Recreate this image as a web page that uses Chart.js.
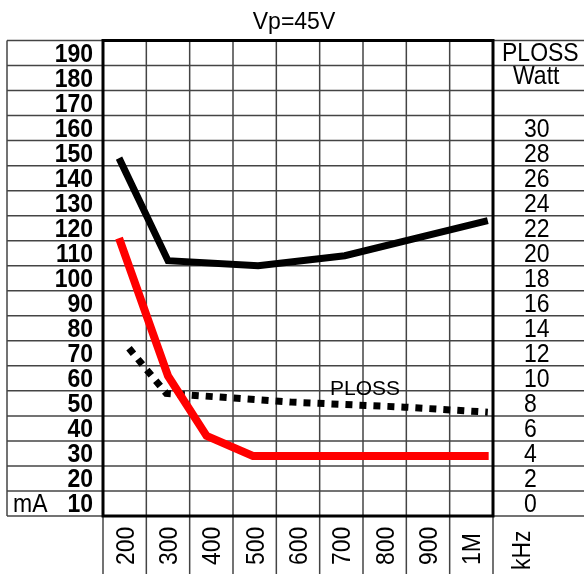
<!DOCTYPE html>
<html>
<head>
<meta charset="utf-8">
<script src="https://cdn.jsdelivr.net/npm/chart.js@4.4.1/dist/chart.umd.min.js"></script>
<style>
  html, body { margin: 0; padding: 0; background: #fff; }
  canvas { display: block; }
</style>
</head>
<body>
<canvas id="chart" width="584" height="574"></canvas>
<script>
  // ---- data ----------------------------------------------------------------
  const FREQ_TICKS = [200, 300, 400, 500, 600, 700, 800, 900, 1000];
  const FREQ_LABELS = ["200", "300", "400", "500", "600", "700", "800", "900", "1M"];
  const MA_TICKS = [190, 180, 170, 160, 150, 140, 130, 120, 110, 100, 90, 80, 70, 60, 50, 40, 30, 20, 10];
  const PLOSS_TICKS = [30, 28, 26, 24, 22, 20, 18, 16, 14, 12, 10, 8, 6, 4, 2, 0];

  // black curve (mA)
  const UPPER_KHZ = [187, 300, 508, 708, 1038];
  const UPPER_MA = [148, 107, 105, 109, 123];
  // red curve (mA)
  const LOWER_KHZ = [187, 300, 389, 496, 1040];
  const LOWER_MA = [116, 61, 37, 29, 29];
  // dotted curve, power loss (W, right axis)
  const PLOSS_KHZ = [210, 296, 585, 846, 1038];
  const PLOSS_W = [12.4, 8.8, 8.1, 7.7, 7.3];

  const FONT = "'Liberation Sans', Arial, sans-serif";
  const GRID = "#444";
  const STRETCH = 1.1; // the original glyphs are a bit taller than Arial

  const pts = (xs, ys) => xs.map((x, i) => ({ x: x, y: ys[i] }));

  // text with a slight vertical stretch, optionally rotated
  function label(ctx, text, x, y, rot) {
    ctx.save();
    ctx.translate(x, y);
    if (rot) ctx.rotate(rot);
    ctx.scale(1, STRETCH);
    ctx.fillText(text, 0, 0);
    ctx.restore();
  }

  // grid lines + label cells, drawn from the scales
  const tablePlugin = {
    id: "table",
    beforeDatasetsDraw(chart) {
      const { ctx, chartArea: a, scales } = chart;
      const x = scales.x, y = scales.y;
      const W = chart.width, H = chart.height;
      ctx.save();
      ctx.strokeStyle = GRID;
      ctx.lineWidth = 1.5;
      // row lines (between the labelled values)
      for (let v = 5; v <= 195; v += 10) {
        const py = y.getPixelForValue(v);
        ctx.beginPath();
        ctx.moveTo(7, py);
        ctx.lineTo(W, py);
        ctx.stroke();
      }
      // column lines
      for (let f = 150; f <= 1050; f += 100) {
        const px = x.getPixelForValue(f);
        ctx.beginPath();
        ctx.moveTo(px, a.top);
        ctx.lineTo(px, H);
        ctx.stroke();
      }
      // left edge of the label column
      ctx.beginPath();
      ctx.moveTo(7, a.top);
      ctx.lineTo(7, a.bottom);
      ctx.stroke();
      // plot frame
      ctx.strokeStyle = "#000";
      ctx.lineWidth = 3;
      ctx.strokeRect(a.left, a.top, a.right - a.left, a.bottom - a.top);
      ctx.restore();
    },
    afterDraw(chart) {
      const { ctx, scales } = chart;
      const x = scales.x, y = scales.y, y2 = scales.y2;
      ctx.save();
      ctx.fillStyle = "#000";
      ctx.textBaseline = "alphabetic";

      // title
      ctx.font = "23px " + FONT;
      ctx.textAlign = "center";
      ctx.fillText("Vp=45V", 294, 29);

      // left mA labels
      ctx.font = "bold 23px " + FONT;
      ctx.textAlign = "right";
      MA_TICKS.forEach((v) => label(ctx, String(v), 93, y.getPixelForValue(v) + 9));
      ctx.font = "23px " + FONT;
      ctx.textAlign = "left";
      label(ctx, "mA", 13, y.getPixelForValue(10) + 9);

      // right PLOSS labels
      PLOSS_TICKS.forEach((p) => label(ctx, String(p), 524, y2.getPixelForValue(p) + 9));
      label(ctx, "PLOSS", 502, y.getPixelForValue(190) + 8);
      label(ctx, "Watt", 513, y.getPixelForValue(180) + 6);

      // frequency labels, rotated
      FREQ_TICKS.forEach((f, i) => label(ctx, FREQ_LABELS[i], x.getPixelForValue(f) + 9, 565, -Math.PI / 2));
      label(ctx, "kHz", 530, 570, -Math.PI / 2);

      // curve tag
      ctx.font = "21px " + FONT;
      ctx.fillText("PLOSS", 330, 395);
      ctx.restore();
    },
  };

  new Chart(document.getElementById("chart"), {
    type: "line",
    data: {
      datasets: [
        { data: pts(UPPER_KHZ, UPPER_MA), borderColor: "#000", borderWidth: 7, yAxisID: "y" },
        { data: pts(LOWER_KHZ, LOWER_MA), borderColor: "#ff0000", borderWidth: 8, yAxisID: "y" },
        { data: pts(PLOSS_KHZ, PLOSS_W), borderColor: "#000", borderWidth: 7, borderDash: [7, 7], yAxisID: "y2" },
      ],
    },
    options: {
      responsive: false,
      animation: false,
      devicePixelRatio: 1,
      layout: { padding: { left: 103, right: 91, top: 40.5, bottom: 58 } },
      elements: {
        point: { radius: 0 },
        line: { tension: 0, borderCapStyle: "butt", borderJoinStyle: "miter", fill: false },
      },
      plugins: { legend: { display: false }, tooltip: { enabled: false }, title: { display: false } },
      scales: {
        x: { type: "linear", min: 150, max: 1050, display: false },
        y: { type: "linear", min: 5, max: 195, display: false },
        // PLOSS W: 0 W sits on the 10 mA row, 30 W on the 160 mA row
        y2: { type: "linear", min: -1, max: 37, display: false },
      },
    },
    plugins: [tablePlugin],
  });
</script>
</body>
</html>
